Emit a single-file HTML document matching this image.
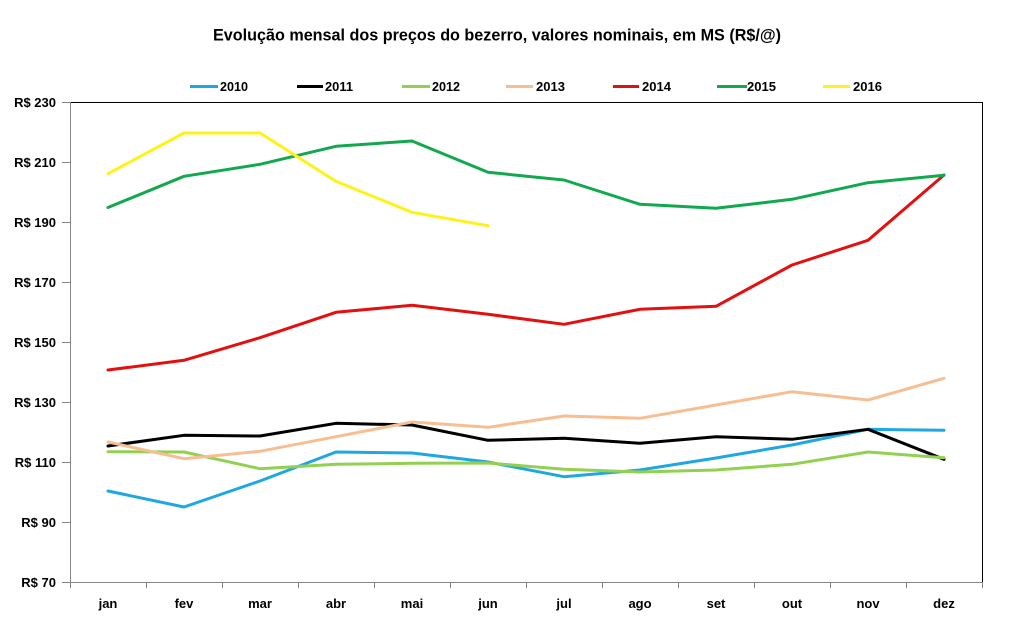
<!DOCTYPE html>
<html><head><meta charset="utf-8"><style>
html,body{margin:0;padding:0;background:#fff;}
svg{display:block;}
text{font-family:"Liberation Sans",Arial,sans-serif;font-weight:bold;fill:#000;}
</style></head><body>
<svg width="1012" height="631" viewBox="0 0 1012 631" xmlns="http://www.w3.org/2000/svg">
<rect x="0" y="0" width="1012" height="631" fill="#fff"/>
<text x="497" y="40.5" font-size="17" text-anchor="middle" textLength="568" lengthAdjust="spacingAndGlyphs">Evolução mensal dos preços do bezerro, valores nominais, em MS (R$/@)</text>

<!-- legend -->
<g stroke-width="3">
<line x1="190" y1="86.5" x2="218" y2="86.5" stroke="#1FA7E2"/>
<line x1="297" y1="86.5" x2="323" y2="86.5" stroke="#000"/>
<line x1="402" y1="86.5" x2="430" y2="86.5" stroke="#92D050"/>
<line x1="506" y1="86.5" x2="533" y2="86.5" stroke="#F7BE92"/>
<line x1="613" y1="86.5" x2="639" y2="86.5" stroke="#E31010"/>
<line x1="717" y1="86.5" x2="747" y2="86.5" stroke="#12A94E"/>
<line x1="823" y1="86.5" x2="850" y2="86.5" stroke="#FFF21A"/>
</g>
<g font-size="12.5">
<text x="220" y="91" textLength="28" lengthAdjust="spacingAndGlyphs">2010</text>
<text x="325" y="91" textLength="28" lengthAdjust="spacingAndGlyphs">2011</text>
<text x="432" y="91" textLength="28" lengthAdjust="spacingAndGlyphs">2012</text>
<text x="536" y="91" textLength="29" lengthAdjust="spacingAndGlyphs">2013</text>
<text x="642" y="91" textLength="29" lengthAdjust="spacingAndGlyphs">2014</text>
<text x="747" y="91" textLength="29" lengthAdjust="spacingAndGlyphs">2015</text>
<text x="853" y="91" textLength="29" lengthAdjust="spacingAndGlyphs">2016</text>
</g>

<!-- frame -->
<line x1="70" y1="102.5" x2="982.5" y2="102.5" stroke="#000" stroke-width="1"/>
<line x1="982.5" y1="102" x2="982.5" y2="582" stroke="#000" stroke-width="1"/>
<g stroke="#868686" stroke-width="1">
<line x1="62" y1="102.5" x2="70" y2="102.5"/>
<line x1="70.5" y1="102" x2="70.5" y2="588"/>
<line x1="62" y1="582.5" x2="983" y2="582.5"/>
<line x1="62" y1="162.5" x2="70" y2="162.5"/>
<line x1="62" y1="222.5" x2="70" y2="222.5"/>
<line x1="62" y1="282.5" x2="70" y2="282.5"/>
<line x1="62" y1="342.5" x2="70" y2="342.5"/>
<line x1="62" y1="402.5" x2="70" y2="402.5"/>
<line x1="62" y1="462.5" x2="70" y2="462.5"/>
<line x1="62" y1="522.5" x2="70" y2="522.5"/>
<line x1="146.5" y1="582" x2="146.5" y2="588"/>
<line x1="222.5" y1="582" x2="222.5" y2="588"/>
<line x1="298.5" y1="582" x2="298.5" y2="588"/>
<line x1="374.5" y1="582" x2="374.5" y2="588"/>
<line x1="450.5" y1="582" x2="450.5" y2="588"/>
<line x1="526.5" y1="582" x2="526.5" y2="588"/>
<line x1="602.5" y1="582" x2="602.5" y2="588"/>
<line x1="678.5" y1="582" x2="678.5" y2="588"/>
<line x1="754.5" y1="582" x2="754.5" y2="588"/>
<line x1="830.5" y1="582" x2="830.5" y2="588"/>
<line x1="906.5" y1="582" x2="906.5" y2="588"/>
<line x1="982.5" y1="582" x2="982.5" y2="588"/>
</g>

<!-- y labels -->
<g font-size="13" text-anchor="end">
<text x="56" y="107">R$ 230</text>
<text x="56" y="167">R$ 210</text>
<text x="56" y="227">R$ 190</text>
<text x="56" y="287">R$ 170</text>
<text x="56" y="347">R$ 150</text>
<text x="56" y="407">R$ 130</text>
<text x="56" y="467">R$ 110</text>
<text x="56" y="527">R$ 90</text>
<text x="56" y="587">R$ 70</text>
</g>
<!-- x labels -->
<g font-size="13" text-anchor="middle">
<text x="108" y="608">jan</text>
<text x="184" y="608">fev</text>
<text x="260" y="608">mar</text>
<text x="336" y="608">abr</text>
<text x="412" y="608">mai</text>
<text x="488" y="608">jun</text>
<text x="564" y="608">jul</text>
<text x="640" y="608">ago</text>
<text x="716" y="608">set</text>
<text x="792" y="608">out</text>
<text x="868" y="608">nov</text>
<text x="944" y="608">dez</text>
</g>

<!-- series -->
<g fill="none" stroke-width="3" stroke-linejoin="round" stroke-linecap="round">
<polyline stroke="#1FA7E2" points="108,491 184,507 260,481 336,452 412,453 488,462 564,476.7 640,470 716,458 792,445 868,429.3 944,430.3"/>
<polyline stroke="#000" points="108,446 184,435.3 260,436 336,423.3 412,425 488,440.3 564,438.3 640,443.3 716,436.7 792,439.3 868,429.3 944,459.3"/>
<polyline stroke="#92D050" points="108,451.7 184,452 260,468.7 336,464.3 412,463.3 488,463 564,469.3 640,472 716,470 792,464.3 868,452 944,457.7"/>
<polyline stroke="#F7BE92" points="108,442 184,458.7 260,451.3 336,436.7 412,422 488,427.3 564,416 640,418.3 716,405 792,391.7 868,400 944,378.3"/>
<polyline stroke="#E31010" points="108,370 184,360.3 260,337.7 336,312.3 412,305.3 488,314.3 564,324.3 640,309.3 716,306.3 792,265 868,240.3 944,175"/>
<polyline stroke="#12A94E" points="108,207.5 184,176.3 260,164.3 336,146.3 412,141 488,172.3 564,180 640,204.3 716,208.3 792,199.3 868,182.7 944,175.3"/>
<polyline stroke="#FFF21A" points="108,173.7 184,133 260,133 336,181.3 412,212.3 488,225.7"/>
</g>
</svg>
</body></html>
